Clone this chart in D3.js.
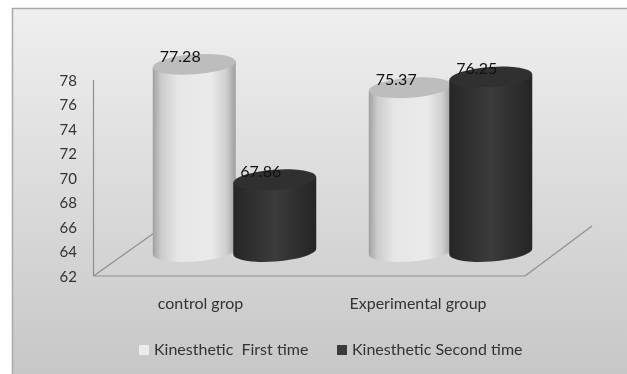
<!DOCTYPE html>
<html>
<head>
<meta charset="utf-8">
<script src="https://cdn.jsdelivr.net/npm/d3@7"></script>
<style>
html, body { margin: 0; padding: 0; background: #fff; }
svg { display: block; filter: blur(0.35px); }
text { font-family: Lato, "Open Sans", sans-serif; fill: #333; }
</style>
</head>
<body>
<script>
// Chart values
const groups = ['control grop', 'Experimental group'];
const seriesNames = ['Kinesthetic  First time', 'Kinesthetic Second time'];
const firstTime = [77.28, 75.37];
const secondTime = [67.86, 76.25];
const yTicks = [62, 64, 66, 68, 70, 72, 74, 76, 78];

const W = 627, H = 374;
const svg = d3.select('body').append('svg').attr('width', W).attr('height', H);
const defs = svg.append('defs');

function vGrad(id, stops, horizontal) {
  const g = defs.append('linearGradient').attr('id', id)
    .attr('x1', 0).attr('y1', 0)
    .attr('x2', horizontal ? 1 : 0).attr('y2', horizontal ? 0 : 1);
  stops.forEach(s => g.append('stop').attr('offset', s[0]).attr('stop-color', s[1]));
}
vGrad('bg', [[0, '#efefef'], [1, '#c6c6c6']]);
vGrad('lightBody', [[0, '#a0a0a0'], [0.1, '#cbcbcb'], [0.3, '#e6e6e6'], [0.7, '#ebebeb'], [0.88, '#d0d0d0'], [1, '#9e9e9e']], true);
vGrad('darkBody', [[0, '#262626'], [0.5, '#3b3b3b'], [1, '#252525']], true);

// Panel
svg.append('rect').attr('x', 12.5).attr('y', 8.5).attr('width', W).attr('height', H)
  .attr('fill', 'url(#bg)').attr('stroke', '#a8a8a8').attr('stroke-width', 1.5);

// Wall axis scale, text sits on the front of the box
const yAxisScale = d3.scaleLinear().domain([62, 78]).range([276, 80]);
// Cylinders stand further back, so their baseline is higher
const yBar = d3.scaleLinear().domain([62, 78]).range([251.5, 55.5]);

const x0 = d3.scaleBand().domain(groups).range([126.5, 558.5]).paddingInner(0.2546).paddingOuter(0.1273);
const x1 = d3.scaleBand().domain([0, 1]).range([0, x0.bandwidth()]);
const rx = 41.5, ry = 10, tilt = -4.2, lean = 3;

// Box edges
const floor = d3.scaleLinear().domain([0, 1]).range([93.5, 525]);
const edges = svg.append('g').attr('stroke', '#8f8f8f').attr('stroke-width', 1.2).attr('fill', 'none');
edges.append('line').attr('x1', floor(0)).attr('x2', floor(0)).attr('y1', yAxisScale(78)).attr('y2', yAxisScale(62));
edges.append('line').attr('x1', floor(0)).attr('x2', floor(1)).attr('y1', yAxisScale(62)).attr('y2', yAxisScale(62));
edges.append('line').attr('x1', floor(0)).attr('x2', floor(0) + 62).attr('y1', yAxisScale(62)).attr('y2', yAxisScale(62) - 44);
edges.append('line').attr('x1', floor(1)).attr('x2', floor(1) + 67).attr('y1', yAxisScale(62)).attr('y2', yAxisScale(62) - 50);

// Tick labels
svg.append('g').selectAll('text').data(yTicks).enter().append('text')
  .attr('x', 77).attr('y', d => yAxisScale(d) + 5.5)
  .attr('text-anchor', 'end').attr('font-size', 15).text(d => d);

// Cylinder from the top centre to the base centre, ellipses lean up to the right
function cylinder(g, cx, top, base, body, lid) {
  const d = `M${cx - rx},${top + lean} L${cx - rx},${base + lean}` +
    ` A${rx},${ry} ${tilt} 0 0 ${cx + rx},${base - lean}` +
    ` L${cx + rx},${top - lean} Z`;
  g.append('path').attr('d', d).attr('fill', body);
  g.append('ellipse').attr('cx', cx).attr('cy', top).attr('rx', rx).attr('ry', ry)
    .attr('transform', `rotate(${tilt} ${cx} ${top})`).attr('fill', lid);
}

const bodies = ['url(#lightBody)', 'url(#darkBody)'];
const lids = ['#bdbdbd', '#303030'];
[firstTime, secondTime].forEach((vals, s) => {
  const g = svg.append('g');
  vals.forEach((v, i) => {
    const cx = x0(groups[i]) + x1(s) + x1.bandwidth() / 2;
    cylinder(g, cx, yBar(v), yBar(62), bodies[s], lids[s]);
  });
});

// Value labels, pushed up and left of the cylinder centre
[firstTime, secondTime].forEach((vals, s) => {
  vals.forEach((v, i) => {
    const cx = x0(groups[i]) + x1(s) + x1.bandwidth() / 2;
    svg.append('text').attr('x', cx - 14).attr('y', yBar(v) - 2.5)
      .attr('text-anchor', 'middle').attr('font-size', 16)
      .style('fill', '#111').text(v.toFixed(2));
  });
});

// Category labels
svg.append('g').selectAll('text').data(groups).enter().append('text')
  .attr('x', (d, i) => [200.5, 418][i]).attr('y', 309)
  .attr('text-anchor', 'middle').attr('font-size', 16).text(d => d);

// Legend
const legendX = [139, 337];
const legendFill = ['#ececec', '#3a3a3a'];
const legend = svg.append('g').selectAll('g').data(seriesNames).enter().append('g');
legend.append('rect').attr('x', (d, i) => legendX[i]).attr('y', 345)
  .attr('width', 10).attr('height', 10).attr('fill', (d, i) => legendFill[i]);
legend.append('text').attr('x', (d, i) => legendX[i] + 15).attr('y', 355)
  .attr('font-size', 16).attr('xml:space', 'preserve').style('white-space', 'pre').text(d => d);
</script>
</body>
</html>
